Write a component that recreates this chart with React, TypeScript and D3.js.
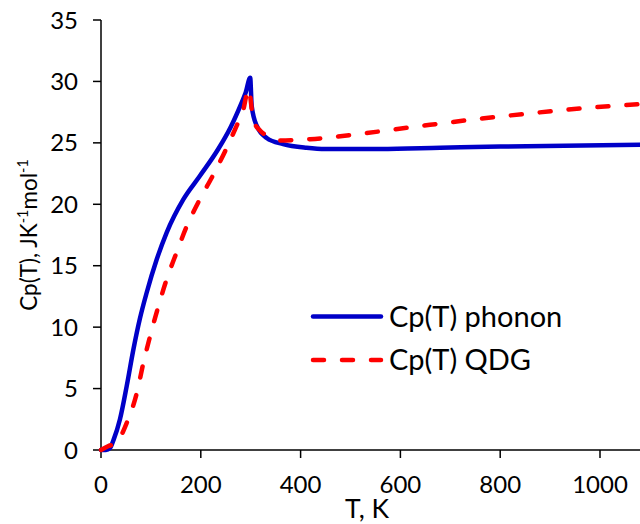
import React from "react";
import * as d3 from "d3";

// Temperature (K) and heat capacity (J K^-1 mol^-1)
const phononT = [0, 10, 18, 25, 38, 51.5, 65, 78, 91.5, 111.6, 131.6, 165, 198, 235, 260, 280, 290, 299, 302, 312, 332, 365, 412, 450, 560, 680, 800, 1080];
const phononCp = [0, 0, 0.15, 0.8, 2.5, 5.2, 8.2, 10.7, 12.8, 15.5, 17.7, 20.4, 22.3, 24.5, 26.3, 28.1, 29.1, 30.3, 28, 26.4, 25.4, 24.9, 24.6, 24.5, 24.5, 24.6, 24.7, 24.85];

const qdgT = [0, 14, 31, 51.5, 71.5, 85, 98, 115, 131.6, 151.7, 171.7, 198, 225, 248.5, 272, 284, 296, 305, 318.6, 340, 358.7, 419, 532, 646, 746, 860, 960, 1080];
const qdgCp = [0, 0.3, 0.6, 2.2, 4.6, 7.1, 9.2, 11.7, 13.9, 16.1, 18.2, 20.4, 22.4, 24.3, 26.4, 27.5, 29.4, 26.9, 26, 25.5, 25.2, 25.3, 25.8, 26.4, 26.9, 27.4, 27.8, 28.15];

const xTicks = [0, 200, 400, 600, 800, 1000];
const yTicks = [0, 5, 10, 15, 20, 25, 30, 35];
const seriesNames = ["Cp(T) phonon", "Cp(T) QDG"];

const W = 640;
const H = 524;
const FONT = "Lato, 'Open Sans', sans-serif";
const BLUE = "#0000C8";
const RED = "#FF0000";
const DASH = "11 18";

export default function App() {
  const x = d3.scaleLinear().domain([0, 1000]).range([101, 600]);
  const y = d3.scaleLinear().domain([0, 35]).range([450, 20]);

  const line = d3
    .line<[number, number]>()
    .x((d) => x(d[0]))
    .y((d) => y(d[1]))
    .curve(d3.curveMonotoneX);

  const phonon = phononT.map((t, i) => [t, phononCp[i]] as [number, number]);
  const qdg = qdgT.map((t, i) => [t, qdgCp[i]] as [number, number]);

  const x0 = x(0);
  const y0 = y(0);

  return (
    <svg
      width={W}
      height={H}
      style={{ position: "absolute", left: 0, top: 0, background: "#fff" }}
      fontFamily={FONT}
    >
      <rect x={0} y={0} width={W} height={H} fill="#fff" />
      {/* axes */}
      <line x1={x0} x2={x0} y1={y(35)} y2={y0} stroke="#000" strokeWidth={1.5} />
      <line x1={x0} x2={W} y1={y0} y2={y0} stroke="#000" strokeWidth={1.5} />
      {yTicks.map((t) => (
        <g key={"y" + t}>
          <line x1={x0 - 8} x2={x0} y1={y(t)} y2={y(t)} stroke="#000" strokeWidth={1.5} />
          <text x={78} y={y(t)} dy="0.36em" textAnchor="end" fontSize={24} fill="#000">
            {t}
          </text>
        </g>
      ))}
      {xTicks.map((t) => (
        <g key={"x" + t}>
          <line x1={x(t)} x2={x(t)} y1={y0} y2={y0 + 8} stroke="#000" strokeWidth={1.5} />
          <text x={x(t)} y={493} textAnchor="middle" fontSize={24} fill="#000">
            {t}
          </text>
        </g>
      ))}
      {/* axis titles */}
      <text x={345} y={518} fontSize={26.5} fill="#000">
        T, K
      </text>
      <text transform="translate(37,235) rotate(-90)" textAnchor="middle" fontSize={22.5} fill="#000">
        <tspan>Cp(T), JK</tspan>
        <tspan fontSize={14.5} dy={-9}>-1</tspan>
        <tspan dy={9}>mol</tspan>
        <tspan fontSize={14.5} dy={-9}>-1</tspan>
      </text>
      {/* series */}
      <path d={line(phonon) || ""} fill="none" stroke={BLUE} strokeWidth={4.5} strokeLinejoin="round" strokeLinecap="round" />
      <path d={line(qdg) || ""} fill="none" stroke={RED} strokeWidth={4.5} strokeDasharray={DASH} strokeLinecap="round" />
      {/* legend */}
      <line x1={313} x2={381} y1={316.5} y2={316.5} stroke={BLUE} strokeWidth={4.5} strokeLinecap="round" />
      <text x={389} y={327} fontSize={29} fill="#000">
        {seriesNames[0]}
      </text>
      <line x1={313} x2={381} y1={360} y2={360} stroke={RED} strokeWidth={4.5} strokeDasharray={DASH} strokeLinecap="round" />
      <text x={389} y={369.5} fontSize={29} fill="#000">
        {seriesNames[1]}
      </text>
    </svg>
  );
}
